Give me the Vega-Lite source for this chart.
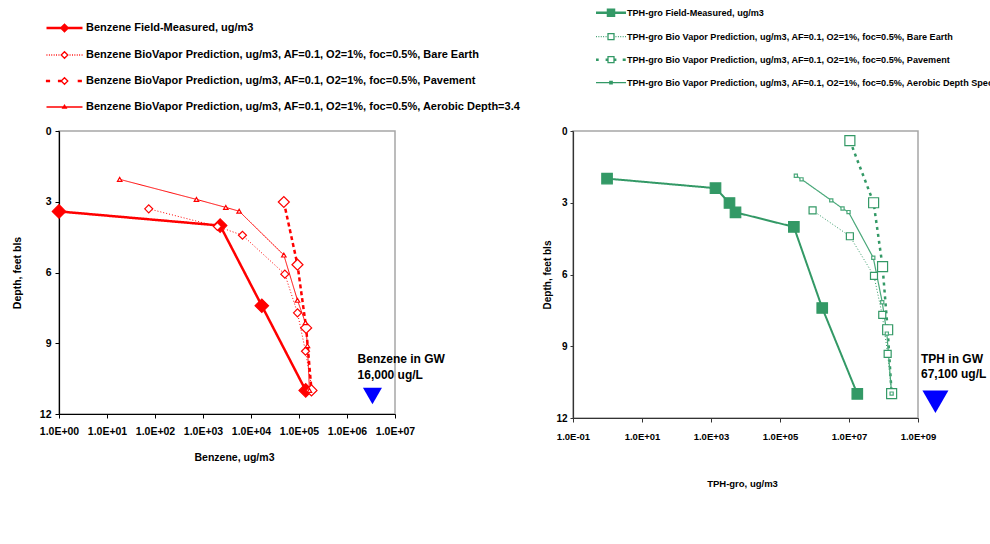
{
  "$schema": "https://vega.github.io/schema/vega-lite/v6.json",
  "autosize": {"type": "none"},
  "padding": {"left": 59, "top": 131, "right": 931, "bottom": 413},
  "background": "white",
  "spacing": 178,
  "bounds": "flush",
  "resolve": {
    "scale": {"stroke": "independent", "fill": "independent", "shape": "independent", "size": "independent", "strokeDash": "independent", "strokeWidth": "independent"},
    "legend": {"shape": "independent", "stroke": "independent", "fill": "independent", "size": "independent", "strokeDash": "independent", "strokeWidth": "independent"}
  },
  "config": {
    "font": "Liberation Sans",
    "view": {"stroke": "#a6a6a6", "strokeWidth": 1.5},
    "axis": {"grid": false, "domainColor": "black", "tickColor": "black", "labelColor": "black", "titleColor": "black", "labelFontWeight": "bold", "titleFontWeight": "bold", "labelFont": "Liberation Sans", "titleFont": "Liberation Sans", "labelFlush": false, "labelOverlap": false, "domainWidth": 1.2}
  },
  "hconcat": [
    {
      "width": 336,
      "height": 283,
      "resolve": {"scale": {"shape": "independent"}, "legend": {"shape": "independent"}},
      "data": {"values": [
        {"series": "Benzene Field-Measured, ug/m3", "conc": 1, "depth": 3.41},
        {"series": "Benzene Field-Measured, ug/m3", "conc": 2275, "depth": 4.01},
        {"series": "Benzene Field-Measured, ug/m3", "conc": 16800, "depth": 7.41},
        {"series": "Benzene Field-Measured, ug/m3", "conc": 138000, "depth": 11.0},
        {"series": "Benzene BioVapor Prediction, ug/m3, AF=0.1, O2=1%, foc=0.5%, Bare Earth", "conc": 74, "depth": 3.30},
        {"series": "Benzene BioVapor Prediction, ug/m3, AF=0.1, O2=1%, foc=0.5%, Bare Earth", "conc": 2000, "depth": 4.05},
        {"series": "Benzene BioVapor Prediction, ug/m3, AF=0.1, O2=1%, foc=0.5%, Bare Earth", "conc": 6640, "depth": 4.42},
        {"series": "Benzene BioVapor Prediction, ug/m3, AF=0.1, O2=1%, foc=0.5%, Bare Earth", "conc": 50700, "depth": 6.07},
        {"series": "Benzene BioVapor Prediction, ug/m3, AF=0.1, O2=1%, foc=0.5%, Bare Earth", "conc": 93000, "depth": 7.71},
        {"series": "Benzene BioVapor Prediction, ug/m3, AF=0.1, O2=1%, foc=0.5%, Bare Earth", "conc": 136600, "depth": 9.34},
        {"series": "Benzene BioVapor Prediction, ug/m3, AF=0.1, O2=1%, foc=0.5%, Bare Earth", "conc": 188000, "depth": 11.0},
        {"series": "Benzene BioVapor Prediction, ug/m3, AF=0.1, O2=1%, foc=0.5%, Pavement", "conc": 48300, "depth": 3.01},
        {"series": "Benzene BioVapor Prediction, ug/m3, AF=0.1, O2=1%, foc=0.5%, Pavement", "conc": 93000, "depth": 5.67},
        {"series": "Benzene BioVapor Prediction, ug/m3, AF=0.1, O2=1%, foc=0.5%, Pavement", "conc": 141000, "depth": 8.35},
        {"series": "Benzene BioVapor Prediction, ug/m3, AF=0.1, O2=1%, foc=0.5%, Pavement", "conc": 182000, "depth": 11.0},
        {"series": "Benzene BioVapor Prediction, ug/m3, AF=0.1, O2=1%, foc=0.5%, Aerobic Depth=3.4", "conc": 18.4, "depth": 2.05},
        {"series": "Benzene BioVapor Prediction, ug/m3, AF=0.1, O2=1%, foc=0.5%, Aerobic Depth=3.4", "conc": 730, "depth": 2.90},
        {"series": "Benzene BioVapor Prediction, ug/m3, AF=0.1, O2=1%, foc=0.5%, Aerobic Depth=3.4", "conc": 2985, "depth": 3.24},
        {"series": "Benzene BioVapor Prediction, ug/m3, AF=0.1, O2=1%, foc=0.5%, Aerobic Depth=3.4", "conc": 5660, "depth": 3.40},
        {"series": "Benzene BioVapor Prediction, ug/m3, AF=0.1, O2=1%, foc=0.5%, Aerobic Depth=3.4", "conc": 48300, "depth": 5.26},
        {"series": "Benzene BioVapor Prediction, ug/m3, AF=0.1, O2=1%, foc=0.5%, Aerobic Depth=3.4", "conc": 93000, "depth": 7.18},
        {"series": "Benzene BioVapor Prediction, ug/m3, AF=0.1, O2=1%, foc=0.5%, Aerobic Depth=3.4", "conc": 136000, "depth": 8.13},
        {"series": "Benzene BioVapor Prediction, ug/m3, AF=0.1, O2=1%, foc=0.5%, Aerobic Depth=3.4", "conc": 150000, "depth": 9.1},
        {"series": "Benzene BioVapor Prediction, ug/m3, AF=0.1, O2=1%, foc=0.5%, Aerobic Depth=3.4", "conc": 165000, "depth": 11.0}
      ]},
      "encoding": {
        "x": {"field": "conc", "type": "quantitative", "title": "Benzene, ug/m3",
          "scale": {"type": "log", "domain": [1, 10000000], "nice": false},
          "axis": {"values": [1, 10, 100, 1000, 10000, 100000, 1000000, 10000000],
            "labelExpr": "'1.0E' + (datum.value < 1 ? '-' : '+') + (abs(round(log(datum.value)/LN10)) < 10 ? '0' : '') + abs(round(log(datum.value)/LN10))",
            "labelFontSize": 10.5, "tickSize": 4, "labelPadding": 8, "titleFontSize": 10.5, "titleX": 175, "titleY": 38, "titleBaseline": "top"}},
        "y": {"field": "depth", "type": "quantitative", "title": "Depth, feet bls",
          "scale": {"domain": [0, 12], "reverse": true, "nice": false, "zero": false},
          "axis": {"values": [0, 3, 6, 9, 12], "labelFontSize": 10.5, "tickSize": 4, "labelPadding": 4, "titleFontSize": 10.5, "titleX": -42, "titleY": 141.5, "titleBaseline": "middle"}}
      },
      "layer": [
        {
          "mark": {"type": "line"},
          "encoding": {
            "order": {"field": "depth", "type": "quantitative"},
            "stroke": {"field": "series", "type": "nominal", "legend": null,
              "scale": {"domain": ["Benzene BioVapor Prediction, ug/m3, AF=0.1, O2=1%, foc=0.5%, Aerobic Depth=3.4", "Benzene BioVapor Prediction, ug/m3, AF=0.1, O2=1%, foc=0.5%, Pavement", "Benzene BioVapor Prediction, ug/m3, AF=0.1, O2=1%, foc=0.5%, Bare Earth", "Benzene Field-Measured, ug/m3"], "range": ["#ff0000", "#ff0000", "#ff0000", "#ff0000"]}},
            "strokeDash": {"field": "series", "type": "nominal", "legend": null,
              "scale": {"domain": ["Benzene BioVapor Prediction, ug/m3, AF=0.1, O2=1%, foc=0.5%, Aerobic Depth=3.4", "Benzene BioVapor Prediction, ug/m3, AF=0.1, O2=1%, foc=0.5%, Pavement", "Benzene BioVapor Prediction, ug/m3, AF=0.1, O2=1%, foc=0.5%, Bare Earth", "Benzene Field-Measured, ug/m3"], "range": [[1, 0], [4, 3], [1, 2], [1, 0]]}},
            "strokeWidth": {"field": "series", "type": "nominal", "legend": null,
              "scale": {"type": "ordinal", "domain": ["Benzene BioVapor Prediction, ug/m3, AF=0.1, O2=1%, foc=0.5%, Aerobic Depth=3.4", "Benzene BioVapor Prediction, ug/m3, AF=0.1, O2=1%, foc=0.5%, Pavement", "Benzene BioVapor Prediction, ug/m3, AF=0.1, O2=1%, foc=0.5%, Bare Earth", "Benzene Field-Measured, ug/m3"], "range": [1, 2.5, 1, 2.5]}}
          }
        },
        {
          "mark": {"type": "point", "filled": true, "strokeWidth": 1.2, "opacity": 1},
          "encoding": {
            "shape": {"field": "series", "type": "nominal", "legend": null,
              "scale": {"domain": ["Benzene BioVapor Prediction, ug/m3, AF=0.1, O2=1%, foc=0.5%, Aerobic Depth=3.4", "Benzene BioVapor Prediction, ug/m3, AF=0.1, O2=1%, foc=0.5%, Pavement", "Benzene BioVapor Prediction, ug/m3, AF=0.1, O2=1%, foc=0.5%, Bare Earth", "Benzene Field-Measured, ug/m3"], "range": ["triangle-up", "diamond", "diamond", "diamond"]}},
            "size": {"field": "series", "type": "nominal", "legend": null,
              "scale": {"type": "ordinal", "domain": ["Benzene BioVapor Prediction, ug/m3, AF=0.1, O2=1%, foc=0.5%, Aerobic Depth=3.4", "Benzene BioVapor Prediction, ug/m3, AF=0.1, O2=1%, foc=0.5%, Pavement", "Benzene BioVapor Prediction, ug/m3, AF=0.1, O2=1%, foc=0.5%, Bare Earth", "Benzene Field-Measured, ug/m3"], "range": [20, 121, 64, 180]}},
            "fill": {"field": "series", "type": "nominal", "legend": null,
              "scale": {"domain": ["Benzene BioVapor Prediction, ug/m3, AF=0.1, O2=1%, foc=0.5%, Aerobic Depth=3.4", "Benzene BioVapor Prediction, ug/m3, AF=0.1, O2=1%, foc=0.5%, Pavement", "Benzene BioVapor Prediction, ug/m3, AF=0.1, O2=1%, foc=0.5%, Bare Earth", "Benzene Field-Measured, ug/m3"], "range": ["#ffffff", "#ffffff", "#ffffff", "#ff0000"]}},
            "stroke": {"field": "series", "type": "nominal", "legend": null}
          }
        },
        {
          "transform": [{"filter": "false"}],
          "mark": {"type": "point", "filled": false, "stroke": "#ff0000", "strokeWidth": 1.3},
          "encoding": {
            "shape": {"field": "series", "type": "nominal",
              "scale": {"domain": ["Benzene Field-Measured, ug/m3", "Benzene BioVapor Prediction, ug/m3, AF=0.1, O2=1%, foc=0.5%, Bare Earth", "Benzene BioVapor Prediction, ug/m3, AF=0.1, O2=1%, foc=0.5%, Pavement", "Benzene BioVapor Prediction, ug/m3, AF=0.1, O2=1%, foc=0.5%, Aerobic Depth=3.4"],
                "range": [
                  "M-3,-0.1H3M-3,0.1H3M-0.65,0L0,-0.65L0.65,0L0,0.65ZM-0.45,0L0,-0.45L0.45,0L0,0.45ZM-0.25,0L0,-0.25L0.25,0L0,0.25ZM-0.08,0L0,-0.08L0.08,0L0,0.08Z",
                  "M-3,0H-2.85M-2.6,0H-2.45M-2.2,0H-2.05M-1.8,0H-1.65M-1.4,0H-1.25M-1,0H-0.85M-0.55,0L0,-0.55L0.55,0L0,0.55ZM0.85,0H1M1.25,0H1.4M1.65,0H1.8M2.05,0H2.2M2.45,0H2.6M2.85,0H3",
                  "M-3.1,-0.1H-2.4M-3.1,0.1H-2.4M-1.1,-0.1H-0.55M-1.1,0.1H-0.55M-0.55,0L0,-0.55L0.55,0L0,0.55ZM2.2,-0.1H2.9M2.2,0.1H2.9",
                  "M-3,0H3M-0.3,0.2L0,-0.3L0.3,0.2Z"]},
              "legend": {"orient": "none", "legendX": -1.5, "legendY": -110, "title": null, "direction": "vertical", "symbolSize": 144, "symbolOpacity": 1, "symbolStrokeWidth": 1.3, "symbolStrokeColor": "#ff0000",
                "labelFontSize": 11, "labelFontWeight": "bold", "labelColor": "black", "labelFont": "Liberation Sans", "labelLimit": 1000, "labelOffset": 14.5, "rowPadding": 13, "padding": 0, "offset": 0}}
          }
        },
        {
          "data": {"values": [{"conc": 3390000, "depth": 11.24}]},
          "mark": {"type": "point", "shape": "triangle-down", "filled": true, "color": "#0000ff", "size": 361, "opacity": 1},
          "encoding": {}
        },
        {
          "data": {"values": [{"conc": 1660000, "depth": 9.46, "label": "Benzene in GW\n16,000 ug/L"}]},
          "mark": {"type": "text", "align": "left", "baseline": "top", "lineBreak": "\n", "fontSize": 12, "fontWeight": "bold", "color": "black", "lineHeight": 16},
          "encoding": {"text": {"field": "label"}}
        }
      ]
    },
    {
      "width": 345,
      "height": 287,
      "resolve": {"scale": {"shape": "independent"}, "legend": {"shape": "independent"}},
      "data": {"values": [
        {"series": "TPH-gro Field-Measured, ug/m3", "conc": 0.97, "depth": 1.99},
        {"series": "TPH-gro Field-Measured, ug/m3", "conc": 1350, "depth": 2.39},
        {"series": "TPH-gro Field-Measured, ug/m3", "conc": 3435, "depth": 3.01},
        {"series": "TPH-gro Field-Measured, ug/m3", "conc": 5130, "depth": 3.40},
        {"series": "TPH-gro Field-Measured, ug/m3", "conc": 252000, "depth": 4.01},
        {"series": "TPH-gro Field-Measured, ug/m3", "conc": 1675000, "depth": 7.40},
        {"series": "TPH-gro Field-Measured, ug/m3", "conc": 17400000, "depth": 10.99},
        {"series": "TPH-gro Bio Vapor Prediction, ug/m3, AF=0.1, O2=1%, foc=0.5%, Bare Earth", "conc": 880000, "depth": 3.32},
        {"series": "TPH-gro Bio Vapor Prediction, ug/m3, AF=0.1, O2=1%, foc=0.5%, Bare Earth", "conc": 10600000, "depth": 4.40},
        {"series": "TPH-gro Bio Vapor Prediction, ug/m3, AF=0.1, O2=1%, foc=0.5%, Bare Earth", "conc": 53000000, "depth": 6.06},
        {"series": "TPH-gro Bio Vapor Prediction, ug/m3, AF=0.1, O2=1%, foc=0.5%, Bare Earth", "conc": 92000000, "depth": 7.69},
        {"series": "TPH-gro Bio Vapor Prediction, ug/m3, AF=0.1, O2=1%, foc=0.5%, Bare Earth", "conc": 132000000, "depth": 9.32},
        {"series": "TPH-gro Bio Vapor Prediction, ug/m3, AF=0.1, O2=1%, foc=0.5%, Bare Earth", "conc": 172000000, "depth": 10.98},
        {"series": "TPH-gro Bio Vapor Prediction, ug/m3, AF=0.1, O2=1%, foc=0.5%, Pavement", "conc": 10600000, "depth": 0.40},
        {"series": "TPH-gro Bio Vapor Prediction, ug/m3, AF=0.1, O2=1%, foc=0.5%, Pavement", "conc": 51700000, "depth": 3.0},
        {"series": "TPH-gro Bio Vapor Prediction, ug/m3, AF=0.1, O2=1%, foc=0.5%, Pavement", "conc": 94000000, "depth": 5.67},
        {"series": "TPH-gro Bio Vapor Prediction, ug/m3, AF=0.1, O2=1%, foc=0.5%, Pavement", "conc": 132000000, "depth": 8.31},
        {"series": "TPH-gro Bio Vapor Prediction, ug/m3, AF=0.1, O2=1%, foc=0.5%, Pavement", "conc": 172000000, "depth": 10.98},
        {"series": "TPH-gro Bio Vapor Prediction, ug/m3, AF=0.1, O2=1%, foc=0.5%, Aerobic Depth Specified", "conc": 288000, "depth": 1.87},
        {"series": "TPH-gro Bio Vapor Prediction, ug/m3, AF=0.1, O2=1%, foc=0.5%, Aerobic Depth Specified", "conc": 421000, "depth": 2.02},
        {"series": "TPH-gro Bio Vapor Prediction, ug/m3, AF=0.1, O2=1%, foc=0.5%, Aerobic Depth Specified", "conc": 3060000, "depth": 2.90},
        {"series": "TPH-gro Bio Vapor Prediction, ug/m3, AF=0.1, O2=1%, foc=0.5%, Aerobic Depth Specified", "conc": 6500000, "depth": 3.24},
        {"series": "TPH-gro Bio Vapor Prediction, ug/m3, AF=0.1, O2=1%, foc=0.5%, Aerobic Depth Specified", "conc": 9700000, "depth": 3.39},
        {"series": "TPH-gro Bio Vapor Prediction, ug/m3, AF=0.1, O2=1%, foc=0.5%, Aerobic Depth Specified", "conc": 50600000, "depth": 5.30},
        {"series": "TPH-gro Bio Vapor Prediction, ug/m3, AF=0.1, O2=1%, foc=0.5%, Aerobic Depth Specified", "conc": 92000000, "depth": 7.16},
        {"series": "TPH-gro Bio Vapor Prediction, ug/m3, AF=0.1, O2=1%, foc=0.5%, Aerobic Depth Specified", "conc": 125000000, "depth": 8.47},
        {"series": "TPH-gro Bio Vapor Prediction, ug/m3, AF=0.1, O2=1%, foc=0.5%, Aerobic Depth Specified", "conc": 172000000, "depth": 10.98}
      ]},
      "encoding": {
        "x": {"field": "conc", "type": "quantitative", "title": "TPH-gro, ug/m3",
          "scale": {"type": "log", "domain": [0.1, 1000000000], "nice": false},
          "axis": {"values": [0.1, 10, 1000, 100000, 10000000, 1000000000],
            "labelExpr": "'1.0E' + (datum.value < 1 ? '-' : '+') + (abs(round(log(datum.value)/LN10)) < 10 ? '0' : '') + abs(round(log(datum.value)/LN10))",
            "labelFontSize": 9.5, "tickSize": 4, "labelPadding": 9, "titleFontSize": 9.5, "titleX": 169, "titleY": 60, "titleBaseline": "top", "domainColor": "#333333", "tickColor": "#333333"}},
        "y": {"field": "depth", "type": "quantitative", "title": "Depth, feet bls",
          "scale": {"domain": [0, 12], "reverse": true, "nice": false, "zero": false},
          "axis": {"values": [0, 3, 6, 9, 12], "labelFontSize": 10, "tickSize": 3, "labelPadding": 3, "titleFontSize": 10, "titleX": -26, "titleY": 143.5, "titleBaseline": "middle", "domainColor": "#333333", "tickColor": "#333333"}}
      },
      "layer": [
        {
          "mark": {"type": "line"},
          "encoding": {
            "order": {"field": "depth", "type": "quantitative"},
            "stroke": {"field": "series", "type": "nominal", "legend": null,
              "scale": {"domain": ["TPH-gro Bio Vapor Prediction, ug/m3, AF=0.1, O2=1%, foc=0.5%, Aerobic Depth Specified", "TPH-gro Bio Vapor Prediction, ug/m3, AF=0.1, O2=1%, foc=0.5%, Pavement", "TPH-gro Bio Vapor Prediction, ug/m3, AF=0.1, O2=1%, foc=0.5%, Bare Earth", "TPH-gro Field-Measured, ug/m3"], "range": ["#4aa87a", "#339966", "#339966", "#339966"]}},
            "strokeDash": {"field": "series", "type": "nominal", "legend": null,
              "scale": {"domain": ["TPH-gro Bio Vapor Prediction, ug/m3, AF=0.1, O2=1%, foc=0.5%, Aerobic Depth Specified", "TPH-gro Bio Vapor Prediction, ug/m3, AF=0.1, O2=1%, foc=0.5%, Pavement", "TPH-gro Bio Vapor Prediction, ug/m3, AF=0.1, O2=1%, foc=0.5%, Bare Earth", "TPH-gro Field-Measured, ug/m3"], "range": [[1, 0], [3, 4], [1, 2], [1, 0]]}},
            "strokeWidth": {"field": "series", "type": "nominal", "legend": null,
              "scale": {"type": "ordinal", "domain": ["TPH-gro Bio Vapor Prediction, ug/m3, AF=0.1, O2=1%, foc=0.5%, Aerobic Depth Specified", "TPH-gro Bio Vapor Prediction, ug/m3, AF=0.1, O2=1%, foc=0.5%, Pavement", "TPH-gro Bio Vapor Prediction, ug/m3, AF=0.1, O2=1%, foc=0.5%, Bare Earth", "TPH-gro Field-Measured, ug/m3"], "range": [1.2, 2.5, 1, 2]}}
          }
        },
        {
          "mark": {"type": "point", "filled": true, "strokeWidth": 1.2, "opacity": 1},
          "encoding": {
            "shape": {"field": "series", "type": "nominal", "legend": null,
              "scale": {"domain": ["TPH-gro Bio Vapor Prediction, ug/m3, AF=0.1, O2=1%, foc=0.5%, Aerobic Depth Specified", "TPH-gro Bio Vapor Prediction, ug/m3, AF=0.1, O2=1%, foc=0.5%, Pavement", "TPH-gro Bio Vapor Prediction, ug/m3, AF=0.1, O2=1%, foc=0.5%, Bare Earth", "TPH-gro Field-Measured, ug/m3"], "range": ["square", "square", "square", "square"]}},
            "size": {"field": "series", "type": "nominal", "legend": null,
              "scale": {"type": "ordinal", "domain": ["TPH-gro Bio Vapor Prediction, ug/m3, AF=0.1, O2=1%, foc=0.5%, Aerobic Depth Specified", "TPH-gro Bio Vapor Prediction, ug/m3, AF=0.1, O2=1%, foc=0.5%, Pavement", "TPH-gro Bio Vapor Prediction, ug/m3, AF=0.1, O2=1%, foc=0.5%, Bare Earth", "TPH-gro Field-Measured, ug/m3"], "range": [10, 100, 49, 110]}},
            "fill": {"field": "series", "type": "nominal", "legend": null,
              "scale": {"domain": ["TPH-gro Bio Vapor Prediction, ug/m3, AF=0.1, O2=1%, foc=0.5%, Aerobic Depth Specified", "TPH-gro Bio Vapor Prediction, ug/m3, AF=0.1, O2=1%, foc=0.5%, Pavement", "TPH-gro Bio Vapor Prediction, ug/m3, AF=0.1, O2=1%, foc=0.5%, Bare Earth", "TPH-gro Field-Measured, ug/m3"], "range": ["#ffffff", "#ffffff", "#ffffff", "#339966"]}},
            "stroke": {"field": "series", "type": "nominal", "legend": null}
          }
        },
        {
          "transform": [{"filter": "false"}],
          "mark": {"type": "point", "filled": false, "stroke": "#339966", "strokeWidth": 1.3},
          "encoding": {
            "shape": {"field": "series", "type": "nominal",
              "scale": {"domain": ["TPH-gro Field-Measured, ug/m3", "TPH-gro Bio Vapor Prediction, ug/m3, AF=0.1, O2=1%, foc=0.5%, Bare Earth", "TPH-gro Bio Vapor Prediction, ug/m3, AF=0.1, O2=1%, foc=0.5%, Pavement", "TPH-gro Bio Vapor Prediction, ug/m3, AF=0.1, O2=1%, foc=0.5%, Aerobic Depth Specified"],
                "range": [
                  "M-2.5,-0.1H2.5M-2.5,0.1H2.5M-0.6,-0.6H0.6V0.6H-0.6ZM-0.4,-0.4H0.4V0.4H-0.4ZM-0.2,-0.2H0.2V0.2H-0.2Z",
                  "M-2.5,0H-2.35M-2.1,0H-1.95M-1.7,0H-1.55M-1.3,0H-1.15M-0.9,0H-0.75M-0.5,-0.5H0.5V0.5H-0.5ZM0.75,0H0.9M1.15,0H1.3M1.55,0H1.7M1.95,0H2.1M2.35,0H2.5",
                  "M-2.5,-0.1H-2.05M-2.5,0.1H-2.05M-0.9,-0.1H-0.5M-0.9,0.1H-0.5M-0.5,-0.5H0.5V0.5H-0.5ZM0.5,-0.1H0.9M0.5,0.1H0.9M1.95,-0.1H2.45M1.95,0.1H2.45",
                  "M-2.5,0H2.5M-0.2,-0.2H0.2V0.2H-0.2Z"]},
              "legend": {"orient": "none", "legendX": 31, "legendY": -125.3, "title": null, "direction": "vertical", "symbolSize": 144, "symbolOpacity": 1, "symbolStrokeWidth": 1.3, "symbolStrokeColor": "#339966",
                "labelFontSize": 9.1, "labelFontWeight": "bold", "labelColor": "black", "labelFont": "Liberation Sans", "labelLimit": 1000, "labelOffset": 9, "rowPadding": 10, "padding": 0, "offset": 0}}
          }
        },
        {
          "data": {"values": [{"conc": 3200000000, "depth": 11.32}]},
          "mark": {"type": "point", "shape": "triangle-down", "filled": true, "color": "#0000ff", "size": 676, "opacity": 1},
          "encoding": {}
        },
        {
          "data": {"values": [{"conc": 1220000000, "depth": 9.32, "label": "TPH in GW\n67,100 ug/L"}]},
          "mark": {"type": "text", "align": "left", "baseline": "top", "lineBreak": "\n", "fontSize": 12, "fontWeight": "bold", "color": "black", "lineHeight": 15},
          "encoding": {"text": {"field": "label"}}
        }
      ]
    }
  ]
}
